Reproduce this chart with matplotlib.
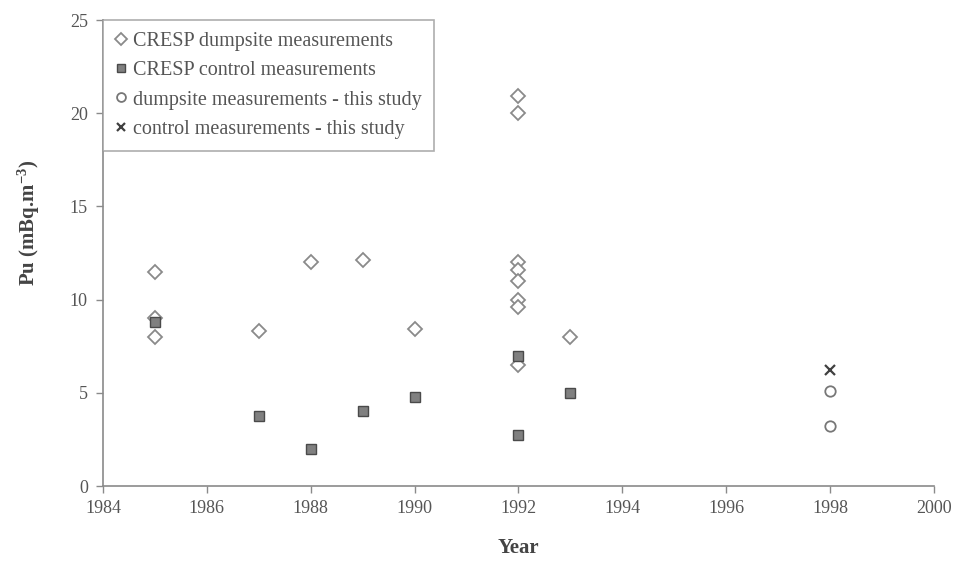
import matplotlib
matplotlib.use("Agg")
import matplotlib.pyplot as plt

# Data
cresp_dump_years = [1985, 1985, 1985, 1987, 1988, 1989, 1990,
                    1992, 1992, 1992, 1992, 1992, 1992, 1992, 1992, 1993]
cresp_dump_vals = [11.5, 9.0, 8.0, 8.3, 12.0, 12.1, 8.4,
                   20.9, 20.0, 12.0, 11.6, 11.0, 10.0, 9.6, 6.5, 8.0]

cresp_ctrl_years = [1985, 1987, 1988, 1989, 1990, 1992, 1992, 1993]
cresp_ctrl_vals = [8.8, 3.75, 2.0, 4.0, 4.8, 7.0, 2.75, 5.0]

study_dump_years = [1998, 1998]
study_dump_vals = [5.1, 3.2]

study_ctrl_years = [1998]
study_ctrl_vals = [6.2]

xticks = list(range(1984, 2001, 2))
yticks = [0, 5, 10, 15, 20, 25]

plt.rcParams['font.family'] = ['Liberation Serif', 'DejaVu Serif']
plt.rcParams['mathtext.fontset'] = 'custom'
plt.rcParams['mathtext.rm'] = 'Liberation Serif'
plt.rcParams['mathtext.bf'] = 'Liberation Serif:bold'
plt.rcParams['mathtext.it'] = 'Liberation Serif:italic'

fig = plt.figure(figsize=(9.55, 5.65), dpi=100)
ax = fig.add_axes([0.1079, 0.1398, 0.870, 0.8248])

ax.plot(cresp_dump_years, cresp_dump_vals, linestyle='none', marker='D', markersize=7,
        markerfacecolor='white', markeredgecolor='#8a8a8a', markeredgewidth=1.3,
        label='CRESP dumpsite measurements')
ax.plot(cresp_ctrl_years, cresp_ctrl_vals, linestyle='none', marker='s', markersize=7.5,
        markerfacecolor='#808080', markeredgecolor='#4a4a4a', markeredgewidth=1.0,
        label='CRESP control measurements')
ax.plot(study_dump_years, study_dump_vals, linestyle='none', marker='o', markersize=7.5,
        markerfacecolor='white', markeredgecolor='#777777', markeredgewidth=1.3,
        label='dumpsite measurements - this study')
ax.plot(study_ctrl_years, study_ctrl_vals, linestyle='none', marker='x', markersize=7.5,
        markeredgecolor='#404040', markeredgewidth=1.6,
        label='control measurements - this study')

ax.set_xlim(1984, 2000)
ax.set_ylim(0, 25)
ax.set_xticks(xticks)
ax.set_yticks(yticks)
ax.tick_params(axis='both', colors='#8a8a8a', labelcolor='#555555', labelsize=13,
               direction='out', length=5, width=1)
ax.tick_params(axis='x', pad=5)
ax.tick_params(axis='y', pad=6)

for s in ['top', 'right']:
    ax.spines[s].set_visible(False)
for s in ['left', 'bottom']:
    ax.spines[s].set_color('#8a8a8a')
    ax.spines[s].set_linewidth(1.2)

ax.set_xlabel('Year', fontsize=15, fontweight='bold', color='#444444')
ax.xaxis.set_label_coords(0.5, -0.112)
ax.set_ylabel(r'Pu (mBq.m$^{\mathbf{-3}}$)', fontsize=15, fontweight='bold', color='#444444')
ax.yaxis.set_label_coords(-0.074, 0.565)

leg = ax.legend(loc='upper left', bbox_to_anchor=(0.0, 1.0), borderaxespad=0.0,
                frameon=True, fancybox=False,
                fontsize=14.5, handlelength=0.6, handletextpad=0.3, borderpad=0.6,
                labelspacing=0.5, markerscale=0.85)
leg.get_frame().set_edgecolor('#9a9a9a')
leg.get_frame().set_linewidth(1.2)
for t in leg.get_texts():
    t.set_color('#555555')

fig.savefig('out.png', dpi=100)
